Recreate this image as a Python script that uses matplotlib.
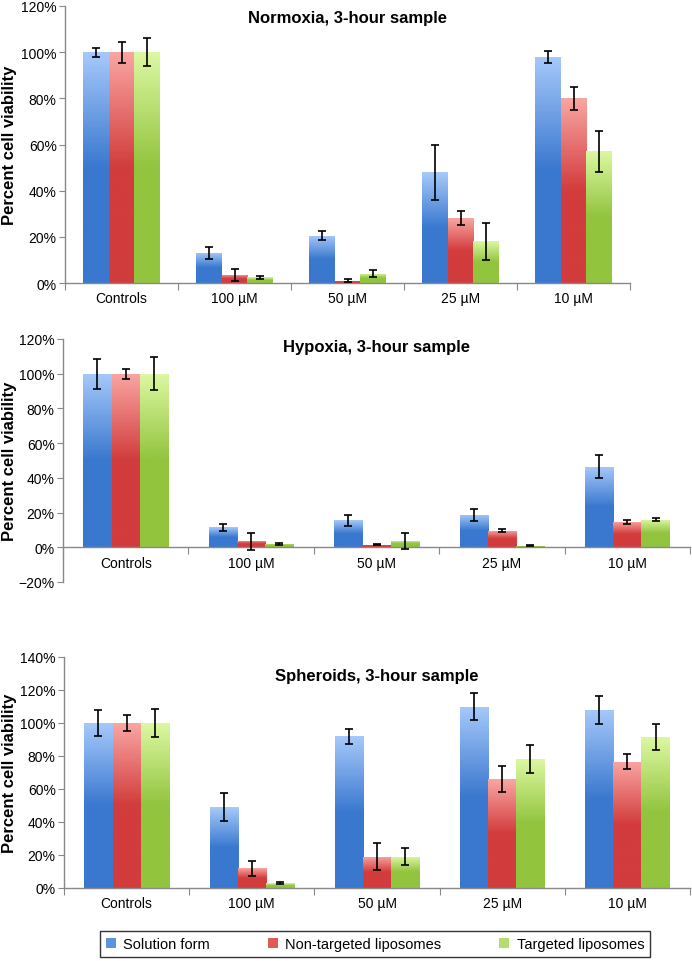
import numpy as np
import matplotlib
matplotlib.use("Agg")
import matplotlib.pyplot as plt
from matplotlib.patches import Patch
from matplotlib.colors import LinearSegmentedColormap

plt.rcParams['font.family'] = ['Liberation Sans Narrow', 'Liberation Sans', 'DejaVu Sans']

categories = ["Controls", "100 \u00b5M", "50 \u00b5M", "25 \u00b5M", "10 \u00b5M"]
series_names = ["Solution form", "Non-targeted liposomes", "Targeted liposomes"]

normoxia_vals = [[100, 13, 20.5, 48, 98],
                 [100, 3.5, 1, 28, 80],
                 [100, 2.5, 4, 18, 57]]
normoxia_err = [[2, 2.5, 2, 12, 2.5],
                [4.5, 2.5, 0.7, 3, 5],
                [6, 0.7, 1.5, 8, 8.7]]

hypoxia_vals = [[100, 11.5, 15.5, 18.5, 46.5],
                [100, 3.5, 1.5, 9.5, 14.5],
                [100, 2, 3.5, 1, 16]]
hypoxia_err = [[8.7, 2, 3, 3.5, 6.5],
               [3, 5, 0.3, 0.8, 1.2],
               [9.5, 0.5, 4.5, 0.3, 1]]

spheroid_vals = [[100, 49, 92, 110, 108],
                 [100, 12, 19, 66, 76.5],
                 [100, 3, 19, 78, 91.5]]
spheroid_err = [[8, 8.5, 4.5, 8, 8.5],
                [5, 4.5, 8, 8, 4.5],
                [8.5, 0.7, 5, 8.5, 8]]

titles = ["Normoxia, 3-hour sample", "Hypoxia, 3-hour sample", "Spheroids, 3-hour sample"]

grad_colors = [("#3a78cf", "#a6c9fa"),
               ("#d23c3c", "#f9a6a3"),
               ("#92c43e", "#dcf8a2")]
legend_colors = ["#5b93de", "#e05a58", "#b5dc6e"]

W, H = 692, 962
fig = plt.figure(figsize=(W / 100, H / 100), dpi=100)

# (left_px, right_px, top_px, bottom_px, ymin, ymax, title_frac)
layouts = [(65, 630, 7, 284, 0, 120, 0.957),
           (63, 690, 340, 583, -20, 120, 0.968),
           (64, 690, 658, 889, 0, 140, 0.92)]
datasets = [(normoxia_vals, normoxia_err), (hypoxia_vals, hypoxia_err), (spheroid_vals, spheroid_err)]

bar_w = 0.225
for (l, r, t, b, ymin, ymax, tf), (vals, errs), title in zip(layouts, datasets, titles):
    ax = fig.add_axes([l / W, 1 - b / H, (r - l) / W, (b - t) / H])
    x = np.arange(len(categories))
    for i in range(3):
        offs = (i - 1) * bar_w
        bars = ax.bar(x + offs, vals[i], width=bar_w, color=grad_colors[i][0],
                      edgecolor='none', zorder=2)
        cmap = LinearSegmentedColormap.from_list("g%d" % i, [grad_colors[i][0], grad_colors[i][0], grad_colors[i][1]])
        grad = np.linspace(0, 1, 256).reshape(-1, 1)
        for bar in bars:
            bx, by = bar.get_x(), bar.get_y()
            bw, bh = bar.get_width(), bar.get_height()
            im = ax.imshow(grad, cmap=cmap, origin='lower', aspect='auto',
                           extent=(bx, bx + bw, by, by + bh), zorder=2.5)
            im.set_clip_path(bar)
        ax.errorbar(x + offs, vals[i], yerr=errs[i], fmt='none', ecolor='black',
                    elinewidth=1.2, capsize=3.2, capthick=1.2, zorder=4)
    ax.set_xlim(-0.5, len(categories) - 0.5)
    ax.set_ylim(ymin, ymax)
    ax.set_yticks(np.arange(ymin, ymax + 1, 20))
    ax.set_yticklabels(["%d%%" % v if v >= 0 else "\u2212%d%%" % (-v) for v in np.arange(ymin, ymax + 1, 20)])
    ax.set_xticks(np.arange(-0.5, len(categories), 1.0))
    ax.set_xticklabels([])
    ax.set_xticks(x, minor=True)
    ax.set_xticklabels(categories, minor=True)
    ax.tick_params(axis='x', which='major', length=5, color='#888888', direction='out')
    ax.tick_params(axis='x', which='minor', length=0, pad=6, labelsize=10)
    ax.tick_params(axis='y', length=4, color='#888888', labelsize=10, pad=2)
    for s in ['top', 'right']:
        ax.spines[s].set_visible(False)
    for s in ['left', 'bottom']:
        ax.spines[s].set_color('#888888')
        ax.spines[s].set_linewidth(1.0)
    ax.spines['bottom'].set_position(('data', 0))
    ax.text(0.5, tf, title, transform=ax.transAxes, ha='center', va='center',
            fontsize=12, fontweight='bold')
    ax.set_ylabel("Percent cell viability", fontsize=12, fontweight='bold',
                  family=['Liberation Sans', 'DejaVu Sans'])
    ax.yaxis.set_label_coords((17 - l) / (r - l), 0.5)
    ax.patch.set_alpha(0)

handles = [Patch(facecolor=c, edgecolor='none') for c in legend_colors]
leg = fig.legend(handles, series_names, loc='center', ncol=3, mode='expand',
                 bbox_to_anchor=(100 / W, 1 - 959 / H, 550 / W, 28 / H),
                 frameon=True, fancybox=False, edgecolor='black', fontsize=10.5,
                 handlelength=0.7, handleheight=0.7, handletextpad=0.5,
                 borderaxespad=0)
leg.get_frame().set_linewidth(1.0)

fig.savefig("out.png", dpi=100)
